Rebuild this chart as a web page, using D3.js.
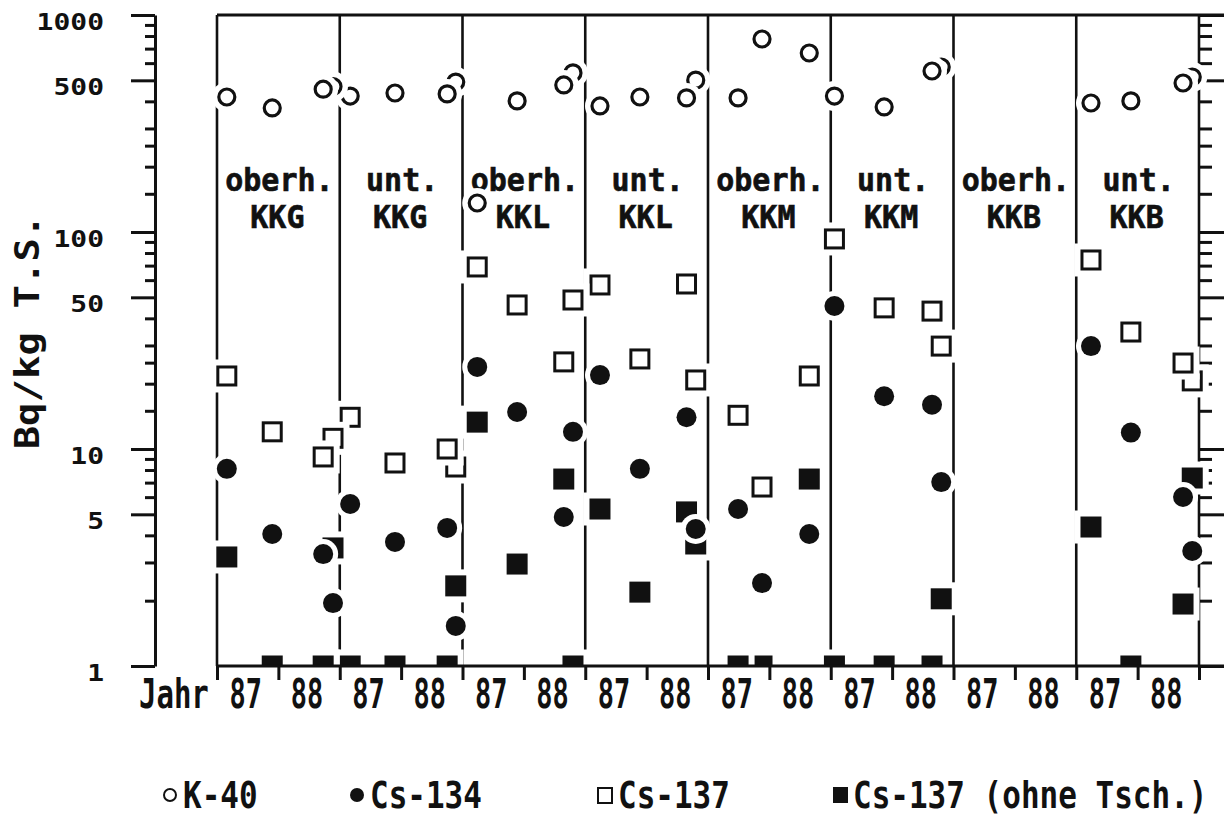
<!DOCTYPE html>
<html><head><meta charset="utf-8">
<script src="https://cdn.jsdelivr.net/npm/d3@7/dist/d3.min.js"></script>
<style>body{margin:0;background:#fff}svg{display:block}</style>
</head><body>
<svg id="c" width="1224" height="817"></svg>
<script>
// ---------------- DATA ----------------
const panelTop    = ["oberh.","unt.","oberh.","unt.","oberh.","unt.","oberh.","unt."];
const panelBottom = ["KKG","KKG","KKL","KKL","KKM","KKM","KKB","KKB"];
const yearLabels  = ["87","88"];
// sampling times (years after 1 Jan 1987) in each panel
const sampleTimes = [
  [0.16,0.90,1.73,1.89],
  [0.17,0.90,1.75,1.89],
  [0.24,0.89,1.65,1.80],
  [0.24,0.89,1.65,1.80],
  [0.49,0.88,1.65],
  [0.06,0.87,1.65,1.80],
  [],
  [0.24,0.89,1.74,1.89]
];
const k40 = [
  [419,373,455,468],[423,437,433,491],[136,402,476,541],[381,419,415,501],
  [415,775,668],[423,377,552,576],[],[393,402,486,518]
];
const cs134 = [
  [8.1,4.06,3.28,1.95],[5.58,3.73,4.33,1.53],[23.9,14.8,4.86,12.0],[21.9,8.1,14.0,4.28],
  [5.29,2.41,4.06],[45.6,17.5,16.0,7.04],[],[29.8,11.9,6.01,3.39]
];
const cs137 = [
  [21.7,12.0,9.19,11.2],[14.0,8.62,10.0,8.26],[69,46.1,25.2,48.6],[57,26.0,57.6,20.8],
  [14.3,6.68,21.7],[92.9,44.7,43.2,29.8],[],[74.3,34.6,24.9,20.6]
];
const cs137ohne = [
  [3.18,1,1,3.5],[1,1,1,2.34],[13.3,2.95,7.27,1],[5.29,2.19,5.13,3.65],
  [1,1,7.27],[1,1,1,2.04],[],[4.37,1,1.93,7.35]
];
const majorTicks = [1,5,10,50,100,500,1000];
const minorTicks = [2,3,4,6,7,8,9,15,20,25,30,40,60,70,80,90,150,200,250,300,400,600,700,800,900];
const yTitle = "Bq/kg T.S.";
const xTitle = "Jahr";
const legendNames = ["K-40","Cs-134","Cs-137","Cs-137 (ohne Tsch.)"];

// ---------------- CHART ----------------
const svg = d3.select("#c");
const FONT = "'DejaVu Sans Mono', 'Liberation Mono', monospace";
const x = d3.scaleLinear().domain([0,16]).range([217,1199]);
const y = d3.scaleLog().domain([1,1000]).range([666,15]);
const ink = "#111";

function stext(g, px, py, str, fs, sy, anchor, weight, rot) {
  return g.append("text")
    .attr("transform", `translate(${px},${py})` + (rot ? ` rotate(${rot})` : "") + ` scale(1,${sy})`)
    .attr("text-anchor", anchor)
    .style("font-family", FONT)
    .style("font-weight", weight)
    .style("font-size", fs + "px")
    .attr("fill", ink)
    .text(str);
}

function styleAxis(g, w) {
  g.selectAll("path").attr("stroke", ink).attr("stroke-width", w);
  g.selectAll("line").attr("stroke", ink).attr("stroke-width", w);
}

// left axis
const la = svg.append("g").attr("transform","translate(155,0)")
  .call(d3.axisLeft(y).tickValues(majorTicks).tickSize(24).tickSizeOuter(0).tickFormat(""));
styleAxis(la, 3);
const lam = svg.append("g").attr("transform","translate(155,0)")
  .call(d3.axisLeft(y).tickValues(minorTicks).tickSize(10).tickSizeOuter(0).tickFormat(""));
lam.select(".domain").remove();
styleAxis(lam, 3);

// right axis
const ra = svg.append("g").attr("transform","translate(1199,0)")
  .call(d3.axisRight(y).tickValues(majorTicks).tickSize(26).tickSizeOuter(0).tickFormat(""));
ra.select(".domain").remove();
styleAxis(ra, 3);
const ram = svg.append("g").attr("transform","translate(1199,0)")
  .call(d3.axisRight(y).tickValues(minorTicks).tickSize(13).tickSizeOuter(0).tickFormat(""));
ram.select(".domain").remove();
styleAxis(ram, 3);

// y tick labels
const yl = svg.append("g");
majorTicks.forEach(v => stext(yl, 104, y(v) + 15, d3.format("d")(v), 28, 0.8, "end", "bold"));

// y title
stext(svg, 39, 332, yTitle, 39, 0.88, "middle", "bold", -90);

// panel dividers
const panelIdx = d3.range(0, 9);
svg.append("g").selectAll("line").data(panelIdx).join("line")
  .attr("x1", d => x(2*d)).attr("x2", d => x(2*d))
  .attr("y1", y(1000)).attr("y2", y(1))
  .attr("stroke", ink).attr("stroke-width", 2.6);

// top border
svg.append("line").attr("x1", x(0)).attr("x2", 1224).attr("y1", y(1000)).attr("y2", y(1000))
  .attr("stroke", ink).attr("stroke-width", 3);

// panel labels
const pl = svg.append("g");
const PFS = 30, PSY = 1.08;
panelTop.forEach((t, i) => {
  const cx = x(2*i + 1);
  const tx = pl.append("text")
    .attr("transform", `translate(${cx},191) scale(1,${PSY})`)
    .attr("text-anchor", "middle")
    .style("font-family", FONT).style("font-weight", "bold").style("font-size", PFS + "px")
    .style("stroke", ink).style("stroke-width", 0.6)
    .attr("fill", ink);
  tx.append("tspan").attr("x", 1).attr("y", 0).text(t);
  tx.append("tspan").attr("x", -1).attr("y", 37.5 / PSY).text(panelBottom[i]);
});

// markers
svg.append("defs").append("clipPath").attr("id","clip")
  .append("rect").attr("x",0).attr("y",0).attr("width",1224).attr("height", y(1));

const series = [
  {data: cs137ohne, type: "fsq"},
  {data: cs137,     type: "osq"},
  {data: cs134,     type: "fci"},
  {data: k40,       type: "oci"}
];
const mg = svg.append("g").attr("clip-path","url(#clip)");
const HALO = 6;
series.forEach(s => {
  const pts = [];
  s.data.forEach((arr, p) => arr.forEach((v, j) => pts.push({t: 2*p + sampleTimes[p][j], v})));
  pts.sort((a, b) => b.t - a.t);
  pts.forEach(d => {
    const px = x(d.t), py = y(d.v);
    if (s.type === "fsq" || s.type === "osq") {
      const h = 10.5;
      mg.append("rect").attr("x", px-h-HALO).attr("y", py-h-HALO)
        .attr("width", 2*(h+HALO)).attr("height", 2*(h+HALO)).attr("fill","#fff");
      if (s.type === "fsq") {
        mg.append("rect").attr("x", px-h).attr("y", py-h).attr("width", 2*h).attr("height", 2*h).attr("fill", ink);
      } else {
        mg.append("rect").attr("x", px-h+1.5).attr("y", py-h+1.5).attr("width", 2*h-3).attr("height", 2*h-3)
          .attr("fill","#fff").attr("stroke", ink).attr("stroke-width", 3);
      }
    } else {
      const r = 10;
      mg.append("circle").attr("cx", px).attr("cy", py).attr("r", r + HALO - 1).attr("fill","#fff");
      if (s.type === "fci") {
        mg.append("circle").attr("cx", px).attr("cy", py).attr("r", r).attr("fill", ink);
      } else {
        mg.append("circle").attr("cx", px).attr("cy", py).attr("r", 8).attr("fill","#fff")
          .attr("stroke", ink).attr("stroke-width", 3.2);
      }
    }
  });
});

// bottom axis
const ba = svg.append("g").attr("transform", `translate(0,${y(1)})`)
  .call(d3.axisBottom(x).tickValues(d3.range(0, 17)).tickSize(14).tickSizeOuter(0).tickFormat(""));
ba.select(".domain").remove();
styleAxis(ba, 3);
svg.append("line").attr("x1", x(0)).attr("x2", 1224).attr("y1", y(1)).attr("y2", y(1))
  .attr("stroke", ink).attr("stroke-width", 3);

// x tick labels
const xl = svg.append("g");
d3.range(0, 8).forEach(p => {
  yearLabels.forEach((lab, j) => stext(xl, x(2*p + j + 0.5) - 2, 708, lab, 27, 1.52, "middle", "bold"));
});
stext(svg, 139, 708, xTitle, 29, 1.4, "start", "bold");

// legend
const lg = svg.append("g");
const legX = [170, 357, 605, 840];
lg.append("circle").attr("cx", legX[0]).attr("cy", 795).attr("r", 6).attr("fill","#fff")
  .attr("stroke", ink).attr("stroke-width", 2);
lg.append("circle").attr("cx", legX[1]).attr("cy", 795).attr("r", 7).attr("fill", ink);
lg.append("rect").attr("x", legX[2]-7).attr("y", 788).attr("width", 14).attr("height", 15)
  .attr("fill","#fff").attr("stroke", ink).attr("stroke-width", 2);
lg.append("rect").attr("x", legX[3]-7).attr("y", 787).attr("width", 15).attr("height", 16).attr("fill", ink);
legendNames.forEach((n, i) => stext(lg, legX[i] + 13, 808, n, 31, 1.22, "start", "bold"));
</script>
</body></html>
